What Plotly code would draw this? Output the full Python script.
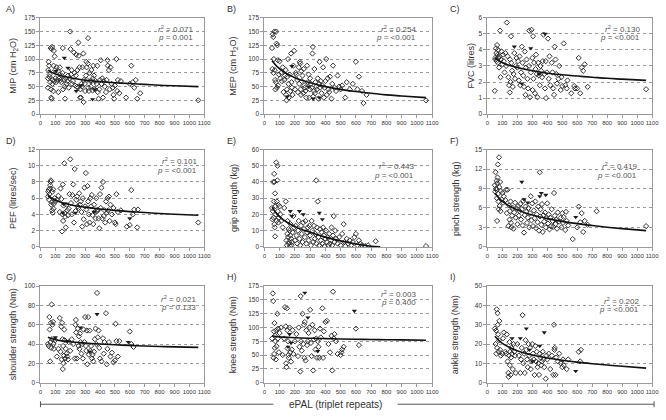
import plotly.graph_objects as go
from plotly.subplots import make_subplots

# ---------------------------------------------------------------------------
# Data (ePAL triplet repeats vs. outcome)
# ---------------------------------------------------------------------------

A_pts = [(50,48),(50,65),(52,80),(55,95),(58,88),(60,68),(62,72),(65,58),(68,120),(70,45),(72,30),(75,118),(75,28),(78,122),(80,55),(82,62),(85,42),(88,88),(90,115),(92,60),(95,105),(98,80),(100,65),(105,58),(108,85),(112,62),(118,78),(120,40),(125,65),(130,85),(135,62),(140,58),(142,70),(148,75),(150,120),(152,45),(158,62),(162,50),(165,28),(170,65),(175,55),(180,60),(185,70),(190,48),(195,65),(200,150),(202,118),(205,72),(210,80),(212,55),(218,60),(225,112),(228,75),(232,52),(238,70),(240,108),(245,50),(248,80),(252,48),(255,130),(258,106),(262,85),(265,30),(268,45),(272,30),(275,55),(280,50),(282,85),(288,110),(290,22),(292,62),(298,55),(300,42),(305,70),(308,95),(310,85),(312,62),(318,92),(320,138),(322,48),(325,42),(330,75),(335,60),(338,50),(342,80),(345,60),(350,43),(352,65),(355,88),(360,70),(365,45),(370,60),(378,55),(382,88),(385,40),(390,28),(395,45),(400,62),(405,98),(410,55),(415,65),(420,30),(425,60),(432,50),(440,40),(445,62),(450,98),(452,88),(460,80),(465,45),(470,85),(478,55),(485,48),(490,35),(495,28),(500,52),(510,100),(515,42),(520,62),(530,38),(540,60),(575,30),(600,55),(610,88),(620,58),(630,48),(640,62),(650,28),(670,38),(1060,25)]
A_tri = [(160,102),(185,84),(105,78),(240,42),(350,27),(365,45),(270,52)]

B_pts = [(50,120),(52,82),(55,145),(58,140),(60,75),(62,100),(65,150),(68,80),(70,62),(72,45),(75,58),(78,150),(80,128),(82,48),(85,125),(88,98),(90,52),(95,72),(100,96),(105,65),(110,75),(115,60),(120,85),(125,40),(130,62),(135,70),(140,80),(142,35),(145,25),(148,45),(150,68),(155,100),(158,55),(160,30),(165,72),(170,42),(175,110),(178,58),(180,48),(185,35),(190,88),(195,115),(200,45),(205,75),(210,72),(215,62),(220,40),(225,85),(228,55),(232,95),(235,92),(238,45),(240,35),(242,78),(245,60),(250,70),(255,38),(258,82),(262,52),(265,48),(270,42),(275,30),(280,88),(285,58),(290,72),(295,30),(298,45),(300,65),(305,55),(310,48),(315,110),(318,122),(320,32),(325,42),(328,82),(332,38),(335,58),(340,50),(345,45),(350,65),(355,28),(360,55),(362,95),(365,48),(370,60),(375,38),(380,52),(385,85),(390,30),(395,48),(400,60),(405,100),(410,35),(415,65),(420,45),(425,40),(430,68),(440,28),(445,55),(450,88),(460,48),(470,42),(480,70),(490,50),(500,45),(510,52),(530,30),(540,58),(560,45),(580,55),(600,95),(610,45),(620,68),(640,42),(650,20),(670,35),(1060,25)]
B_tri = [(180,87),(150,32),(320,28),(360,30),(290,50)]

C_pts = [(50,1.45),(52,3.5),(55,3.4),(58,4.1),(60,3.8),(62,3.3),(65,4.3),(68,3.7),(70,3.2),(72,4.0),(75,3.5),(78,2.9),(80,3.6),(85,5.2),(88,2.3),(90,3.4),(95,3.9),(100,3.1),(105,3.7),(110,3.3),(115,2.6),(120,3.8),(125,3.0),(130,5.7),(135,3.6),(140,2.3),(145,1.8),(150,1.35),(152,3.4),(155,2.0),(158,4.85),(160,3.2),(165,2.7),(170,1.7),(175,2.5),(180,3.8),(185,2.2),(190,3.0),(195,3.5),(200,2.9),(205,3.3),(210,2.1),(215,3.6),(220,1.8),(225,2.6),(230,4.2),(235,3.2),(240,2.4),(245,1.7),(250,3.9),(255,1.2),(258,2.9),(262,3.4),(268,2.2),(272,1.6),(278,3.0),(280,5.2),(285,1.05),(290,2.6),(295,5.25),(300,3.5),(302,1.5),(305,4.85),(308,2.2),(312,3.2),(318,1.3),(322,2.8),(325,3.7),(330,2.5),(335,1.05),(340,3.2),(345,2.4),(350,1.8),(355,3.0),(360,2.7),(365,2.3),(370,3.3),(375,4.95),(380,2.5),(385,1.6),(390,3.3),(392,1.0),(398,2.6),(405,4.7),(410,2.2),(415,3.6),(420,1.8),(430,3.2),(435,2.6),(440,1.6),(445,1.2),(450,4.2),(455,3.4),(460,2.5),(465,1.9),(475,2.2),(480,3.0),(490,1.5),(495,2.3),(500,1.75),(510,4.4),(520,1.8),(530,1.6),(535,2.1),(560,1.3),(580,1.75),(585,1.6),(600,1.6),(610,3.5),(620,1.3),(630,2.9),(640,2.7),(650,3.1),(670,1.7),(1060,1.55)]
C_tri = [(180,4.2),(290,4.1),(385,5.0),(230,1.9),(345,2.5)]

D_pts = [(50,6.2),(52,6.8),(55,7.0),(58,5.8),(60,6.5),(62,7.2),(65,7.6),(68,8.0),(70,8.2),(72,5.2),(75,5.5),(78,4.5),(80,6.8),(82,4.2),(85,7.1),(88,4.7),(90,5.3),(95,6.0),(100,5.6),(110,5.8),(120,6.3),(130,4.3),(135,7.2),(140,5.9),(145,1.9),(148,4.0),(150,7.7),(152,3.2),(155,5.1),(160,10.3),(162,4.2),(165,3.7),(170,2.4),(175,5.2),(180,4.5),(185,3.9),(190,4.7),(195,6.5),(200,10.8),(205,5.4),(210,4.0),(215,6.4),(220,7.7),(225,3.0),(230,9.6),(235,4.4),(240,5.8),(245,6.2),(250,5.0),(255,4.8),(260,6.6),(265,5.2),(270,5.6),(275,4.3),(280,2.5),(285,6.0),(290,3.4),(295,7.3),(300,5.0),(305,9.1),(308,4.6),(312,2.8),(316,7.5),(320,5.6),(325,4.0),(330,3.0),(335,6.0),(340,5.0),(345,6.4),(350,3.9),(355,2.8),(360,5.2),(365,4.3),(370,3.5),(375,6.0),(380,4.4),(385,4.6),(390,3.5),(395,2.3),(400,6.5),(405,4.8),(410,7.3),(415,3.5),(420,8.0),(425,3.8),(430,4.5),(435,3.0),(440,5.6),(445,4.2),(450,6.0),(455,4.5),(460,6.2),(465,3.2),(470,5.2),(480,4.0),(490,4.8),(500,3.0),(505,2.8),(510,6.5),(520,4.3),(540,4.5),(580,2.5),(600,2.7),(610,7.0),(620,4.0),(630,4.6),(650,2.4),(655,4.6),(1060,3.0)]
D_tri = [(155,5.3),(235,4.2),(360,4.3),(600,3.5),(150,4.2)]

E_pts = [(50,24),(52,17),(55,22),(58,40),(60,18),(62,28),(64,45),(65,14),(66,40),(68,12),(70,33),(70,6.5),(72,25),(75,20),(78,52),(80,16),(82,28),(85,41),(86,50),(88,22),(90,26),(92,15),(95,18),(100,25),(105,20),(110,16),(120,12),(130,24),(140,28),(145,4),(148,1),(150,8),(152,16),(155,6),(158,11),(160,2),(162,3),(165,10),(168,0.5),(170,7),(172,14),(175,5),(178,1),(180,3),(185,9),(190,19),(195,12),(200,4),(205,13),(210,7),(215,2),(220,10),(225,16),(230,5),(235,1),(240,13),(245,8),(250,3),(255,15),(260,11),(265,6),(270,16),(275,2),(280,9),(285,12),(290,4),(295,13),(300,7),(305,1),(310,16),(315,10),(320,3),(325,13),(330,5),(335,8),(340,41),(342,2),(345,12),(350,28),(355,6),(360,1),(365,11),(370,4),(375,9),(380,2),(385,12),(390,7),(395,0.5),(400,5),(405,10),(410,3),(415,6),(420,1),(425,8),(430,2),(435,4),(440,12),(445,1),(450,7),(455,19),(460,3),(465,10),(470,5),(480,2),(490,6),(500,1),(510,8),(520,14),(525,3),(530,0.5),(540,5),(550,2),(560,4),(570,1),(580,3),(590,6),(600,8),(610,1),(620,4),(630,2),(640,1),(660,0.5),(680,1),(730,3.5),(1060,0.5)]
E_tri = [(170,22),(230,22),(255,20),(360,21),(380,17),(180,19)]

F_pts = [(50,9.5),(52,8.5),(55,11.5),(58,9.0),(60,8.8),(62,10.2),(64,7.5),(65,4.0),(66,9.8),(68,10.7),(70,12.7),(72,8.2),(74,7.0),(76,5.8),(78,13.8),(80,9.2),(82,6.3),(85,10.0),(88,5.5),(90,8.6),(95,7.3),(100,8.3),(105,6.8),(110,7.8),(120,7.2),(125,8.8),(130,5.2),(135,8.8),(140,3.2),(145,6.4),(148,4.2),(150,5.5),(155,7.0),(158,3.7),(160,3.0),(165,4.8),(170,6.0),(175,2.8),(180,5.3),(185,6.8),(190,4.5),(195,5.9),(200,3.5),(205,6.3),(210,4.8),(215,5.5),(220,6.6),(225,4.2),(230,5.8),(235,3.3),(240,7.1),(245,2.2),(250,4.9),(255,6.2),(260,5.4),(265,3.7),(270,4.5),(275,6.0),(280,3.0),(285,5.2),(290,7.8),(295,4.1),(300,6.7),(305,3.2),(310,5.6),(315,4.4),(320,7.0),(325,2.9),(330,5.0),(335,3.8),(340,6.2),(345,2.5),(350,11.5),(352,4.7),(355,5.8),(360,3.4),(365,6.6),(370,2.3),(375,4.9),(380,3.9),(385,5.3),(390,3.0),(395,4.4),(400,6.7),(405,3.6),(410,5.0),(415,2.7),(420,4.5),(425,3.2),(430,5.8),(435,4.0),(440,3.1),(445,8.3),(450,4.8),(455,3.5),(460,4.2),(465,2.8),(470,5.3),(480,3.9),(490,4.5),(495,3.0),(500,5.2),(505,3.7),(510,4.6),(520,2.6),(525,5.4),(530,4.0),(540,3.3),(570,1.2),(600,3.0),(610,6.2),(620,3.8),(630,5.2),(640,2.3),(650,4.0),(670,3.4),(730,5.5),(1060,3.2)]
F_tri = [(230,10.0),(245,7.3),(270,6.8),(350,7.8),(360,8.3),(390,8.0),(590,4.6)]

G_pts = [(50,40),(55,38),(60,68),(62,55),(65,22),(68,42),(70,62),(72,36),(75,81),(78,45),(80,60),(85,63),(88,40),(90,35),(100,44),(110,27),(120,35),(130,67),(135,32),(140,58),(142,24),(145,62),(148,45),(150,14),(152,38),(155,20),(158,28),(160,55),(162,44),(165,25),(170,35),(175,30),(180,27),(185,24),(190,42),(200,33),(210,45),(220,40),(230,25),(235,60),(238,65),(240,52),(245,25),(250,56),(255,38),(258,48),(262,35),(265,51),(270,42),(275,30),(280,40),(285,25),(290,55),(295,42),(300,68),(305,38),(308,33),(312,54),(315,19),(320,68),(325,29),(330,54),(335,33),(340,38),(345,25),(350,29),(355,22),(360,32),(365,45),(370,56),(375,40),(380,93),(385,47),(390,54),(395,36),(400,25),(410,22),(420,46),(425,30),(430,42),(440,72),(445,19),(450,35),(460,42),(470,27),(480,31),(490,21),(500,23),(505,61),(510,43),(520,27),(530,43),(600,53),(610,40),(625,37)]
G_tri = [(100,47),(180,43),(270,57),(380,71),(590,42),(330,32)]

H_pts = [(50,80),(55,162),(58,148),(60,45),(62,93),(64,52),(66,108),(68,63),(70,85),(72,75),(75,42),(78,95),(80,66),(85,125),(88,80),(90,98),(95,55),(100,90),(110,100),(120,50),(130,80),(135,137),(140,102),(142,35),(145,28),(148,135),(150,95),(152,62),(155,75),(158,50),(160,45),(165,100),(170,55),(175,38),(180,60),(185,95),(190,52),(200,75),(210,88),(220,48),(225,100),(230,65),(235,20),(238,157),(240,75),(245,58),(250,125),(255,70),(260,105),(262,45),(265,110),(270,40),(275,95),(280,68),(285,75),(290,90),(295,100),(300,132),(305,72),(310,48),(315,105),(320,22),(325,78),(330,95),(335,60),(340,80),(345,45),(350,75),(355,65),(360,45),(365,98),(370,82),(380,135),(385,45),(390,93),(400,110),(410,112),(420,70),(430,55),(440,85),(445,22),(450,165),(455,80),(460,88),(470,75),(480,52),(500,50),(505,55),(510,60),(520,65),(600,98),(620,68)]
H_tri = [(165,88),(155,65),(175,72),(265,163),(285,118),(350,57),(590,130)]

I_pts = [(50,28),(55,20),(58,27),(60,15),(62,38),(65,18),(68,36),(70,30),(72,25),(75,16),(78,22),(80,32),(85,17),(90,14),(100,15),(105,23),(110,26),(120,16),(125,15),(130,25),(135,11),(140,5),(142,3),(145,14),(148,21),(150,9),(152,16),(155,4),(158,13),(160,18),(165,15),(170,7),(175,20),(180,16),(185,14),(190,5),(200,20),(210,14),(220,5),(225,12),(230,18),(235,35),(240,10),(245,15),(250,5),(255,22),(260,17),(265,12),(270,8),(275,20),(280,14),(285,18),(290,7),(295,11),(300,20),(305,15),(310,12),(315,4),(320,19),(325,11),(330,16),(335,8),(340,10),(345,4),(350,15),(355,13),(360,9),(365,11),(370,16),(375,12),(380,8),(390,2),(395,14),(400,12),(410,15),(420,7),(430,14),(440,4),(445,30),(448,17),(450,18),(455,4),(460,13),(470,11),(480,15),(490,10),(500,8),(505,12),(510,9),(530,7),(540,12),(610,16),(620,11),(625,17)]
I_tri = [(165,23),(220,23),(260,28),(280,17),(350,19),(380,26),(590,6),(300,11)]

fit_x = [50, 100, 200, 300, 400, 500, 600, 700, 800, 900, 1060]
A_fit = [80, 73, 66, 61.5, 59, 57, 55.5, 54, 52.5, 51.5, 50]
B_fit = [97, 82, 66, 57, 50, 45, 41, 38, 35, 33, 30]
C_fit = [3.5, 3.2, 2.9, 2.7, 2.55, 2.45, 2.37, 2.3, 2.23, 2.18, 2.1]
D_fit = [6.3, 5.75, 5.2, 4.9, 4.67, 4.5, 4.35, 4.23, 4.12, 4.02, 3.9]
E_x = [50, 100, 200, 300, 400, 500, 600, 700, 760]
E_fit = [24.5, 18.5, 12.5, 9, 6, 3.7, 1.8, 0.4, 0]
F_fit = [8.3, 7.0, 5.7, 4.9, 4.35, 3.93, 3.58, 3.29, 3.03, 2.81, 2.5]
G_fit = [47, 44.5, 42.3, 41, 40, 39.2, 38.6, 38, 37.5, 37.1, 36.5]
H_fit = [85, 83, 81.5, 80.5, 79.8, 79.2, 78.7, 78.3, 77.9, 77.5, 77]
I_fit = [24, 20.3, 16.5, 14.3, 12.8, 11.6, 10.6, 9.8, 9.1, 8.5, 7.5]

labels = ["A)", "B)", "C)", "D)", "E)", "F)", "G)", "H)", "I)"]
y_titles = ["MIP (cm H<sub>2</sub>O)", "MEP (cm H<sub>2</sub>O)", "FVC (litres)",
            "PEF (litres/sec)", "grip strength (kg)", "pinch strength (kg)",
            "shoulder strength (Nm)", "knee strength (Nm)", "ankle strength (Nm)"]
r2_vals = ["0.071", "0.254", "0.130", "0.101", "0.443", "0.419", "0.021", "0.003", "0.202"]
p_vals = ["0.001", "<0.001", "<0.001", "<0.001", "<0.001", "<0.001", "0.133", "0.400", "<0.001"]
y_max = [175, 175, 6, 12, 60, 15, 100, 175, 50]
y_step = [25, 25, 1, 2, 10, 3, 20, 25, 10]

panels = [
    (A_pts, A_tri, fit_x, A_fit), (B_pts, B_tri, fit_x, B_fit), (C_pts, C_tri, fit_x, C_fit),
    (D_pts, D_tri, fit_x, D_fit), (E_pts, E_tri, E_x, E_fit), (F_pts, F_tri, fit_x, F_fit),
    (G_pts, G_tri, fit_x, G_fit), (H_pts, H_tri, fit_x, H_fit), (I_pts, I_tri, fit_x, I_fit),
]

# ---------------------------------------------------------------------------
# Layout (pixel positions of the plot areas inside the 666x420 page)
# ---------------------------------------------------------------------------
W, H = 666, 420
col_px = [(39, 205), (266, 436), (492, 659)]
row_px = [(14, 112), (148, 247), (287, 385)]
ytitle_px = [12, 235, 475, 11, 235, 460, 12, 235, 460]
# offsets of the r²/p block from each panel's top-right corner
stat_dx = [9, 14, 10, 5, 16, 13, 6, 14, 11]
stat_dy = [11, 11, 11, 12, 17, 17, 13, 8, 15]

FONT = "Arial, Liberation Sans, sans-serif"
GREY = "#555555"
XTICKFONT = dict(size=6, color="#333", family=FONT)
YTICKFONT = dict(size=6.5, color="#333", family=FONT)

fig = make_subplots(rows=3, cols=3)

for i, (pts, tri, fx, fy) in enumerate(panels):
    r, c = divmod(i, 3)
    px, py = zip(*pts)
    tx, ty = zip(*tri)
    fig.add_trace(go.Scatter(
        x=px, y=py, mode="markers",
        marker=dict(symbol="diamond-open", size=4, color="#333333", line=dict(width=1)),
        showlegend=False, hoverinfo="skip"), row=r + 1, col=c + 1)
    fig.add_trace(go.Scatter(
        x=tx, y=ty, mode="markers",
        marker=dict(symbol="triangle-down", size=4.5, color="#1a1a1a"),
        showlegend=False, hoverinfo="skip"), row=r + 1, col=c + 1)
    fig.add_trace(go.Scatter(
        x=fx, y=fy, mode="lines", line=dict(color="#111111", width=1.6, shape="spline"),
        showlegend=False, hoverinfo="skip"), row=r + 1, col=c + 1)

    x0, x1 = col_px[c]
    y0, y1 = row_px[r]
    n = "" if i == 0 else str(i + 1)
    fig.layout["xaxis" + n].update(
        domain=[x0 / W, x1 / W], range=[0, 1100], dtick=100, tick0=0, tickangle=0,
        showline=True, linecolor="#9a9a9a", linewidth=1, mirror=True,
        ticks="outside", ticklen=3, tickcolor="#9a9a9a", showgrid=False, zeroline=False,
        tickfont=XTICKFONT)
    fig.layout["yaxis" + n].update(
        domain=[1 - y1 / H, 1 - y0 / H], range=[0, y_max[i]], dtick=y_step[i], tick0=0,
        showline=True, linecolor="#9a9a9a", linewidth=1, mirror=True,
        ticks="outside", ticklen=3, tickcolor="#9a9a9a",
        showgrid=True, gridcolor="#9a9a9a", griddash="dot", gridwidth=1, zeroline=False,
        tickfont=YTICKFONT)

    # panel letter
    fig.add_annotation(text=labels[i], xref="paper", yref="paper",
                       x=(x0 - 37 if c == 0 else x0 - 40) / W, y=1 - (y0 - 9) / H,
                       xanchor="left", yanchor="middle", showarrow=False,
                       font=dict(size=9, color="#333", family=FONT))
    # y-axis title
    fig.add_annotation(text=y_titles[i], xref="paper", yref="paper",
                       x=ytitle_px[i] / W, y=1 - (y0 + y1) / 2 / H, textangle=-90,
                       xanchor="center", yanchor="middle", showarrow=False,
                       font=dict(size=9, color="#333", family=FONT))
    # statistics
    sx = (x1 - stat_dx[i]) / W
    fig.add_annotation(text=f"<i>r</i><sup>2</sup> = {r2_vals[i]}", xref="paper", yref="paper",
                       x=sx, y=1 - (y0 + stat_dy[i]) / H, xanchor="right", yanchor="middle",
                       showarrow=False, font=dict(size=8, color=GREY, family=FONT))
    fig.add_annotation(text=f"<i>p</i> = {p_vals[i]}", xref="paper", yref="paper",
                       x=sx, y=1 - (y0 + stat_dy[i] + 9) / H, xanchor="right", yanchor="middle",
                       showarrow=False, font=dict(size=8, color=GREY, family=FONT))

# shared x-axis label with bracket line
fig.add_annotation(text="ePAL (triplet repeats)", xref="paper", yref="paper",
                   x=338 / W, y=1 - 407 / H, xanchor="center", yanchor="middle",
                   showarrow=False, font=dict(size=10, color="#333", family=FONT))
line_y = 1 - 407 / H
for xa, xb in [(39, 275), (401, 661)]:
    fig.add_shape(type="line", xref="paper", yref="paper", x0=xa / W, x1=xb / W,
                  y0=line_y, y1=line_y, line=dict(color="#555", width=1))
for xe in (39, 661):
    fig.add_shape(type="line", xref="paper", yref="paper", x0=xe / W, x1=xe / W,
                  y0=line_y - 3 / H, y1=line_y + 3 / H, line=dict(color="#555", width=1))

fig.update_layout(
    width=W, height=H, margin=dict(l=0, r=0, t=0, b=0),
    paper_bgcolor="white", plot_bgcolor="white",
    font=dict(family=FONT, color="#333"),
)

# drop the browser's default body margin so the figure sits at the page origin
fig.write_html("out.html", config={"displayModeBar": False},
               post_script="document.body.style.margin='0';")
